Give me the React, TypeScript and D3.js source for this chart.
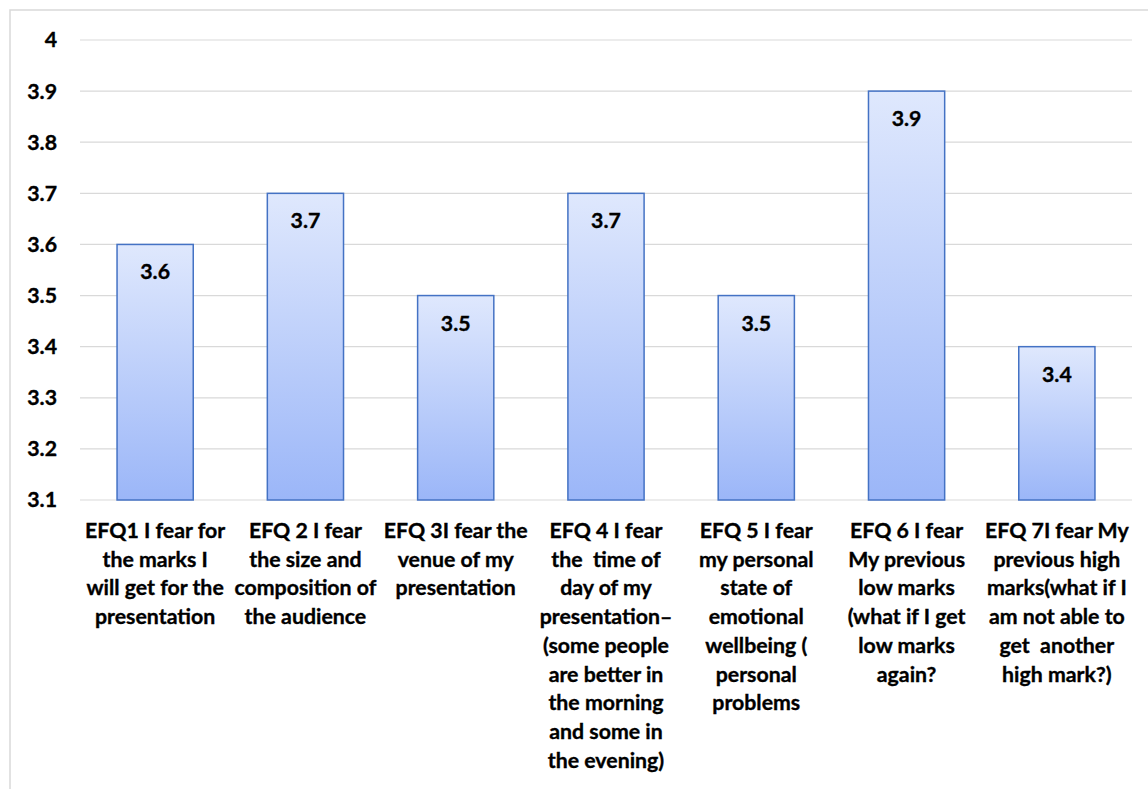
import { scaleBand, scaleLinear } from "d3";

const categories = ["EFQ1", "EFQ2", "EFQ3", "EFQ4", "EFQ5", "EFQ6", "EFQ7"];
const values = [3.6, 3.7, 3.5, 3.7, 3.5, 3.9, 3.4];
const yTicks = [3.1, 3.2, 3.3, 3.4, 3.5, 3.6, 3.7, 3.8, 3.9, 4];
const labelLines = [
  ["EFQ1 I fear for", "the marks I", "will get for the", "presentation"],
  ["EFQ 2 I fear", "the size and", "composition of", "the audience"],
  ["EFQ 3I fear the", "venue of my", "presentation"],
  [
    "EFQ 4 I fear",
    "the  time of",
    "day of my",
    "presentation\u2013",
    "(some people",
    "are better in",
    "the morning",
    "and some in",
    "the evening)",
  ],
  ["EFQ 5 I fear", "my personal", "state of", "emotional", "wellbeing (", "personal", "problems"],
  ["EFQ 6 I fear", "My previous", "low marks", "(what if I get", "low marks", "again?"],
  ["EFQ 7I fear My", "previous high", "marks(what if I", "am not able to", "get  another", "high mark?)"],
];

const W = 1148;
const H = 789;
const plot = { left: 80, right: 1132, top: 40, bottom: 500 };
const font = "Lato, 'Open Sans', sans-serif";
const fs = 21.3;

export default function App() {
  const x = scaleBand<string>()
    .domain(categories)
    .range([plot.left, plot.right])
    .paddingInner(0.493)
    .paddingOuter(0.2465);
  const y = scaleLinear().domain([3.1, 4]).range([plot.bottom, plot.top]);

  // text gets a hairline stroke so Lato reads as heavy as the original Calibri bold
  const txt = { fill: "#000", stroke: "#000", strokeWidth: 0.35 };

  return (
    <svg
      width={W}
      height={H}
      style={{ position: "absolute", left: 0, top: 0, background: "#fff" }}
      fontFamily={font}
      fontWeight="bold"
    >
      <defs>
        <linearGradient id="barFill" x1="0" y1="0" x2="0" y2="1">
          <stop offset="0%" stopColor="#dfe8fd" />
          <stop offset="100%" stopColor="#9bb6f8" />
        </linearGradient>
      </defs>

      {/* chart frame */}
      <path d={`M10,${H} L10,10 L${W},10`} fill="none" stroke="#d9d9d9" strokeWidth={1.5} />

      {/* grid + y labels */}
      {yTicks.map((t) => (
        <g key={t} transform={`translate(0,${y(t)})`}>
          <line x1={plot.left} x2={plot.right} stroke="#d9d9d9" strokeWidth={1.2} />
          <text x={57} dy="0.35em" textAnchor="end" fontSize={fs} {...txt}>
            {t === 4 ? "4" : t.toFixed(1)}
          </text>
        </g>
      ))}

      {/* bars */}
      {categories.map((c, i) => {
        const bx = x(c) as number;
        const top = y(values[i]);
        return (
          <g key={c}>
            <rect
              x={bx}
              y={top}
              width={x.bandwidth()}
              height={y(3.1) - top}
              fill="url(#barFill)"
              stroke="#4472c4"
              strokeWidth={1.5}
            />
            <text
              x={bx + x.bandwidth() / 2}
              y={top + 35}
              textAnchor="middle"
              fontSize={fs}
              {...txt}
            >
              {values[i].toFixed(1)}
            </text>
          </g>
        );
      })}

      {/* category labels */}
      {categories.map((c, i) => (
        <text
          key={c}
          x={(x(c) as number) + x.bandwidth() / 2}
          y={538}
          textAnchor="middle"
          fontSize={fs}
          {...txt}
        >
          {labelLines[i].map((ln, j) => (
            <tspan key={j} x={(x(c) as number) + x.bandwidth() / 2} dy={j === 0 ? 0 : 28.7} style={{ whiteSpace: "pre" }}>
              {ln}
            </tspan>
          ))}
        </text>
      ))}
    </svg>
  );
}
